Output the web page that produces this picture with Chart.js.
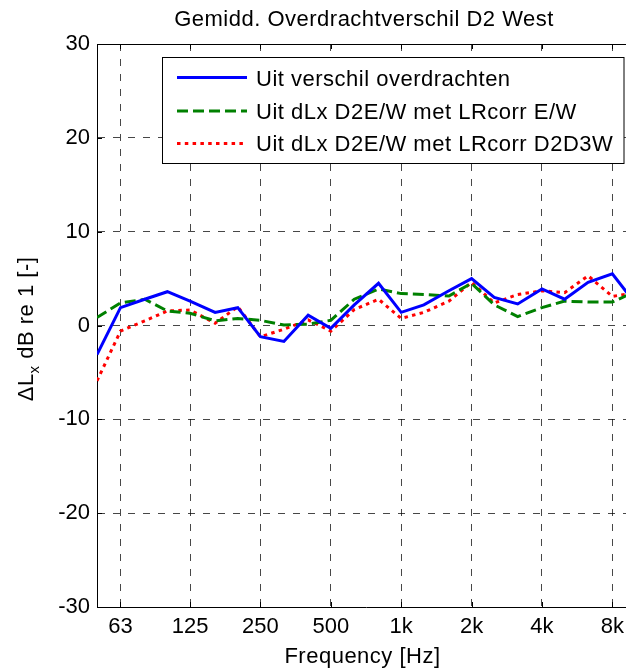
<!DOCTYPE html>
<html>
<head>
<meta charset="utf-8">
<script src="https://cdn.jsdelivr.net/npm/chart.js@4"></script>
<style>
  html, body { margin: 0; padding: 0; background: #fff; overflow: hidden; }
  #wrap { width: 660px; height: 670px; }
</style>
</head>
<body>
<div id="wrap"><canvas id="chart" width="660" height="670"></canvas></div>
<script>
// Third-octave band centres (Hz) and the three level-difference curves
const freqs = [50, 63, 80, 100, 125, 160, 200, 250, 315, 400, 500, 630,
               800, 1000, 1250, 1600, 2000, 2500, 3150, 4000, 5000, 6300, 8000, 10000];
const verschil = [-3.1, 1.9, 2.8, 3.6, 2.6, 1.4, 1.9, -1.2, -1.7, 1.1, -0.3, 2.2,
                  4.5, 1.4, 2.2, 3.7, 5.0, 3.0, 2.3, 3.9, 2.8, 4.6, 5.5, 2.4];
const lrcorrEW = [0.85, 2.4, 2.8, 1.55, 1.3, 0.5, 0.75, 0.55, 0.05, 0.15, 0.55, 2.8,
                  3.9, 3.4, 3.3, 3.15, 4.5, 2.2, 0.95, 1.9, 2.6, 2.5, 2.5, 3.6];
const lrcorrD2D3W = [-5.9, -0.6, 0.5, 1.55, 1.65, 0.25, 2.0, -1.2, -0.4, 0.6, -0.6, 1.7,
                     2.8, 0.75, 1.4, 2.6, 4.6, 2.4, 3.3, 3.7, 3.5, 5.3, 3.1, 3.5];

const xTicks = [63, 125, 250, 500, 1000, 2000, 4000, 8000];
const xTickLabels = ['63', '125', '250', '500', '1k', '2k', '4k', '8k'];
const seriesLabels = ['Uit verschil overdrachten',
                      'Uit dLx D2E/W met LRcorr E/W',
                      'Uit dLx D2E/W met LRcorr D2D3W'];

const FONT = "'Liberation Sans', Arial, sans-serif";
const gridColor = 'rgba(0,0,0,0.72)';

function toPoints(ys) {
    return freqs.map((f, i) => ({ x: f, y: ys[i] }));
}

// MATLAB-ish decorations: box, inward ticks, legend and axis titles
const matlabFrame = {
    id: 'matlabFrame',
    afterDraw(chart) {
        const ctx = chart.ctx;
        const a = chart.chartArea;
        const xs = chart.scales.x, ys = chart.scales.y;
        ctx.save();

        // top border of the box
        ctx.strokeStyle = '#000';
        ctx.lineWidth = 1;
        ctx.beginPath();
        ctx.moveTo(a.left, a.top + 0.5);
        ctx.lineTo(a.right, a.top + 0.5);
        ctx.stroke();

        // inward tick marks
        ctx.beginPath();
        xTicks.forEach(v => {
            const px = Math.round(xs.getPixelForValue(v)) + 0.5;
            ctx.moveTo(px, a.bottom); ctx.lineTo(px, a.bottom - 5);
            ctx.moveTo(px, a.top); ctx.lineTo(px, a.top + 5);
        });
        ys.ticks.forEach(t => {
            const py = Math.round(ys.getPixelForValue(t.value)) + 0.5;
            ctx.moveTo(a.left, py); ctx.lineTo(a.left + 5, py);
        });
        ctx.stroke();

        // legend box
        const lx = 162.5, ly = 57.5, lw = 461.5, lh = 106;
        ctx.fillStyle = '#fff';
        ctx.fillRect(lx, ly, lw, lh);
        ctx.strokeStyle = '#000';
        ctx.lineWidth = 1;
        ctx.strokeRect(lx, ly, lw, lh);
        const lineY = [77.5, 111, 143.5];
        const textY = [86, 119, 151];
        ctx.font = '22px ' + FONT;
        ctx.letterSpacing = '0.5px';
        ctx.textAlign = 'left';
        ctx.textBaseline = 'alphabetic';
        chart.data.datasets.forEach((ds, i) => {
            ctx.save();
            ctx.strokeStyle = ds.borderColor;
            ctx.lineWidth = ds.borderWidth;
            ctx.setLineDash(ds.borderDash || []);
            ctx.beginPath();
            ctx.moveTo(177, lineY[i]);
            ctx.lineTo(247, lineY[i]);
            ctx.stroke();
            ctx.restore();
            ctx.fillStyle = '#000';
            ctx.fillText(ds.label, 256, textY[i]);
        });

        // title
        ctx.textAlign = 'center';
        ctx.fillText('Gemidd. Overdrachtverschil D2 West', 364, 26);

        // x axis title
        ctx.fillText('Frequency [Hz]', 362.5, 662.5);

        // y axis title with subscript x
        ctx.translate(33, 329);
        ctx.rotate(-Math.PI / 2);
        const big = '22px ' + FONT, small = '15px ' + FONT;
        ctx.font = big;
        const w1 = ctx.measureText('\u0394L').width;
        const w3 = ctx.measureText(' dB re 1 [-]').width;
        ctx.font = small;
        const w2 = ctx.measureText('x').width;
        let x0 = -(w1 + w2 + w3) / 2;
        ctx.textAlign = 'left';
        ctx.font = big;
        ctx.fillText('\u0394L', x0, 0);
        ctx.font = small;
        ctx.fillText('x', x0 + w1, 6);
        ctx.font = big;
        ctx.fillText(' dB re 1 [-]', x0 + w1 + w2, 0);

        ctx.restore();
    }
};

new Chart(document.getElementById('chart'), {
    type: 'line',
    data: {
        datasets: [
            {
                label: seriesLabels[0],
                data: toPoints(verschil),
                borderColor: '#0000ff',
                borderWidth: 3,
            },
            {
                label: seriesLabels[1],
                data: toPoints(lrcorrEW),
                borderColor: '#008000',
                borderWidth: 3,
                borderDash: [11, 5],
            },
            {
                label: seriesLabels[2],
                data: toPoints(lrcorrD2D3W),
                borderColor: '#ff0000',
                borderWidth: 3,
                borderDash: [3.5, 4.3],
            }
        ]
    },
    options: {
        responsive: false,
        animation: false,
        events: [],
        layout: { padding: { top: 44, right: 25, left: 0, bottom: 0 } },
        elements: {
            line: { tension: 0, fill: false, borderCapStyle: 'butt' },
            point: { radius: 0 }
        },
        scales: {
            x: {
                type: 'logarithmic',
                min: 50,
                max: 10000,
                afterBuildTicks: scale => { scale.ticks = xTicks.map(v => ({ value: v })); },
                afterFit: scale => { scale.height = 63; },
                grid: { color: gridColor, lineWidth: 1, drawTicks: false },
                border: { display: true, color: '#000', width: 1, dash: [7, 8] },
                ticks: {
                    color: '#000',
                    font: { family: FONT, size: 22 },
                    padding: 7,
                    maxRotation: 0,
                    autoSkip: false,
                    callback: (v, i) => xTickLabels[i]
                }
            },
            y: {
                min: -30,
                max: 30,
                afterFit: scale => { scale.width = 97; },
                grid: { color: gridColor, lineWidth: 1, drawTicks: false },
                border: { display: true, color: '#000', width: 1, dash: [7, 8] },
                ticks: {
                    stepSize: 10,
                    color: '#000',
                    font: { family: FONT, size: 22 },
                    padding: 7
                }
            }
        },
        plugins: {
            legend: { display: false },
            title: { display: false },
            tooltip: { enabled: false }
        }
    },
    plugins: [matlabFrame]
});
</script>
</body>
</html>
